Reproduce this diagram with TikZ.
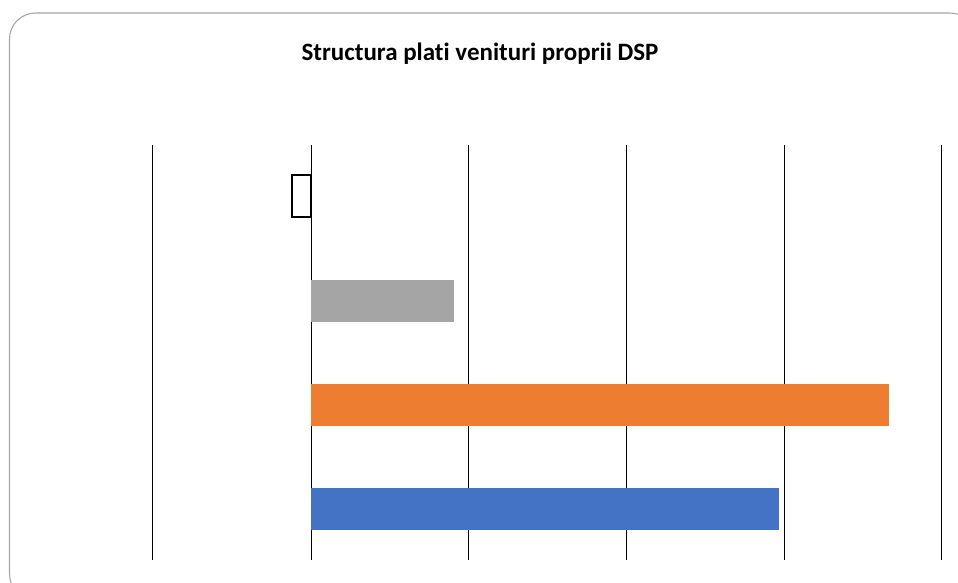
\documentclass[tikz,border=0pt]{standalone}
\usepackage{fontspec}
\setmainfont{Carlito}[Ligatures=NoCommon]
\usetikzlibrary{positioning}
\definecolor{BarGray}{HTML}{A5A5A5}
\definecolor{BarOrange}{HTML}{ED7D31}
\definecolor{BarBlue}{HTML}{4472C4}
\definecolor{FrameGray}{HTML}{A6A6A6}

\begin{document}
\begin{tikzpicture}[x=1pt, y=-1pt]
    \useasboundingbox (0,0) rectangle (958,582);

    % --- Chart frame ---
    \draw[FrameGray, line width=1.1pt, rounded corners=26pt] (9.5,13) rectangle (976,600);
    \node[font=\bfseries\fontsize{25}{30}\selectfont, anchor=base] (title) at (480,60) {Structura plati venituri proprii DSP};

    % --- Gridlines ---
    \draw[line width=1pt] (152,145) -- (152,560);
    \draw[line width=1pt] (311,145) -- (311,560); % Axis
    \draw[line width=1pt] (468,145) -- (468,560);
    \draw[line width=1pt] (626,145) -- (626,560);
    \draw[line width=1pt] (784,145) -- (784,560);
    \draw[line width=1pt] (941,145) -- (941,560);

    % --- Bars ---
    \draw[line width=1.3pt] (292,175) rectangle (311,217); % Empty
    \fill[BarGray] (311,280) rectangle (454,321.5);
    \fill[BarOrange] (311,384) rectangle (889,425.5);
    \fill[BarBlue] (311,488) rectangle (779,530);
\end{tikzpicture}
\end{document}
